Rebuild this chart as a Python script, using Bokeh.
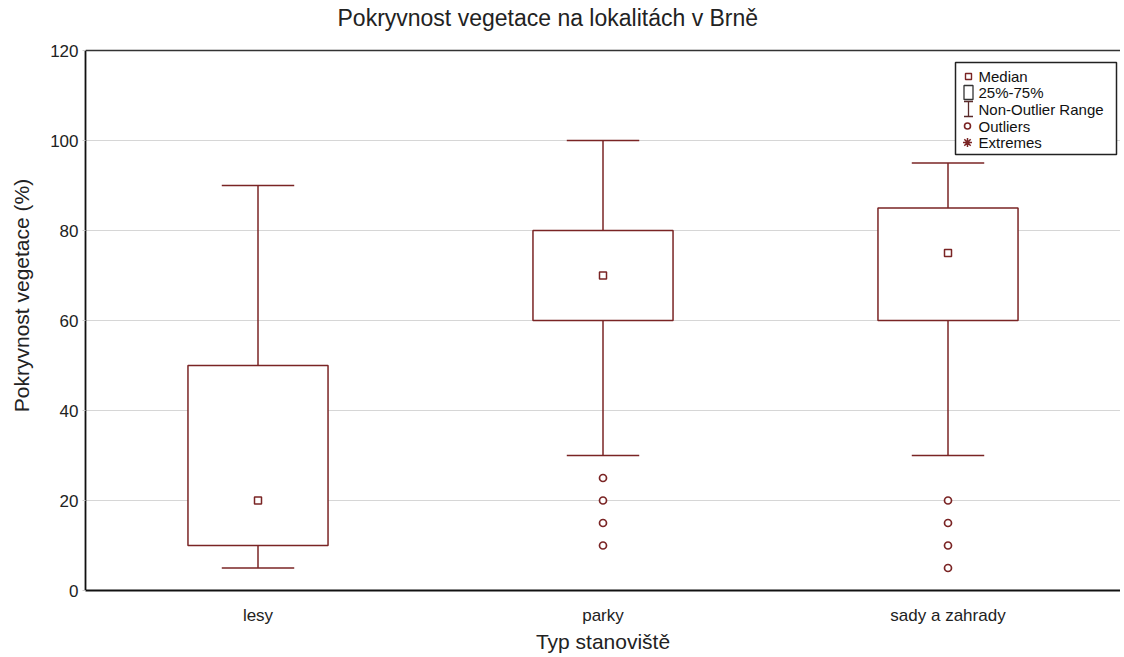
from bokeh.plotting import figure
from bokeh.models import ColumnDataSource, FixedTicker, Span, Range1d
from bokeh.core.properties import value
from bokeh.embed import file_html
from bokeh.resources import INLINE

# ---- data ----
categories = ["lesy", "parky", "sady a zahrady"]
whisker_low = [5, 30, 30]
q1 = [10, 60, 60]
median = [20, 70, 75]
q3 = [50, 80, 85]
whisker_high = [90, 100, 95]
outlier_cat = ["parky", "parky", "parky", "parky",
               "sady a zahrady", "sady a zahrady", "sady a zahrady", "sady a zahrady"]
outlier_val = [25, 20, 15, 10, 20, 15, 10, 5]
y_ticks = [0, 20, 40, 60, 80, 100, 120]
legend_labels = ["Median", "25%-75%", "Non-Outlier Range", "Outliers", "Extremes"]
title_text = "Pokryvnost vegetace na lokalitách v Brně"

COL = "#7a2424"
FONT = "Liberation Sans"

W, H = 1120, 657
BL, BR, BT, BB = 85, 0, 0, 67
FW, FH = W - BL - BR, H - BT - BB          # frame: 1035 x 590
PLOT_TOP = 50                               # pixel row where the value 120 sits
YMAX = 120
y_end = YMAX * FH / (FH - PLOT_TOP)         # extra room above the box area for the title

pos = {c: i + 0.5 for i, c in enumerate(categories)}
xs = [pos[c] for c in categories]
box_w = 0.406
cap_w = 0.21

src = ColumnDataSource(dict(
    x=xs, low=whisker_low, q1=q1, med=median, q3=q3, high=whisker_high,
    bottom_mid=[(a + b) / 2 for a, b in zip(q1, q3)],
    height=[b - a for a, b in zip(q1, q3)],
    cl=[x - cap_w / 2 for x in xs], cr=[x + cap_w / 2 for x in xs],
))
osrc = ColumnDataSource(dict(x=[pos[c] for c in outlier_cat], y=outlier_val))

p = figure(width=W, height=H, x_range=(0, 3), y_range=(0, y_end),
           output_backend="svg", toolbar_location=None,
           min_border_left=BL, min_border_right=BR, min_border_top=BT, min_border_bottom=BB)
# pixel-based ranges (origin = frame bottom-left) for title and legend box
p.extra_x_ranges = {"px": Range1d(0, FW)}
p.extra_y_ranges = {"py": Range1d(0, FH)}
R = dict(x_range_name="px", y_range_name="py")

p.outline_line_color = None
p.background_fill_color = "white"
p.border_fill_color = "white"

# grid
p.xgrid.grid_line_color = None
p.ygrid.grid_line_color = "#d6d6d6"
p.ygrid.grid_line_width = 1
p.ygrid.ticker = FixedTicker(ticks=y_ticks[:-1])

# axes
p.xaxis.ticker = FixedTicker(ticks=xs)
p.xaxis.major_label_overrides = {pos[c]: c for c in categories}
p.xaxis.axis_label = "Typ stanoviště"
p.yaxis.axis_label = "Pokryvnost vegetace (%)"
p.yaxis.ticker = FixedTicker(ticks=y_ticks)
p.yaxis.bounds = (0, YMAX)
for ax in (p.xaxis[0], p.yaxis[0]):
    ax.axis_line_color = "#111111"
    ax.axis_line_width = 1.8
    ax.major_label_text_font = FONT
    ax.major_label_text_font_size = "17px"
    ax.major_label_text_color = "#222222"
    ax.axis_label_text_font = FONT
    ax.axis_label_text_font_size = "21px"
    ax.axis_label_text_font_style = "normal"
    ax.axis_label_text_color = "#222222"
    ax.minor_tick_line_color = None
p.xaxis.major_tick_line_color = None
p.xaxis.major_label_standoff = 9
p.xaxis.axis_label_standoff = 2
p.yaxis.major_tick_line_color = "#cccccc"
p.yaxis.major_tick_in = 0
p.yaxis.major_tick_out = 3
p.yaxis.major_label_standoff = 4
p.yaxis.axis_label_standoff = 14

p.add_layout(Span(location=YMAX, dimension="width", line_color="#333333", line_width=1.5))

# title
p.text(x=[252], y=[FH - 17], text=[title_text], text_font=value(FONT),
       text_font_size="23px", text_color="#222222", text_baseline="middle",
       text_align="left", **R)

# whiskers
p.segment(x0="x", y0="q3", x1="x", y1="high", source=src, line_color=COL, line_width=1.5)
p.segment(x0="x", y0="q1", x1="x", y1="low", source=src, line_color=COL, line_width=1.5)
p.segment(x0="cl", y0="high", x1="cr", y1="high", source=src, line_color=COL, line_width=1.5)
p.segment(x0="cl", y0="low", x1="cr", y1="low", source=src, line_color=COL, line_width=1.5)
# boxes
p.rect(x="x", y="bottom_mid", width=box_w, height="height", source=src,
       fill_color="white", line_color=COL, line_width=1.5)
# median
p.scatter(x="x", y="med", source=src, marker="square", size=7,
          fill_color="white", line_color=COL, line_width=1.5)
# outliers
p.scatter(x="x", y="y", source=osrc, marker="circle", size=7,
          fill_color="white", line_color=COL, line_width=1.7)

# ---- legend drawn in frame pixel coordinates ----
lx0, lx1, ly0, ly1 = 870, 1031, FH - 154, FH - 62
row_y = [FH - 76, FH - 92, FH - 108.5, FH - 125.5, FH - 142]
gx = 883
p.quad(left=[lx0], right=[lx1], bottom=[ly0], top=[ly1], fill_color="white",
       line_color="#222222", line_width=1.5, **R)
p.scatter(x=[gx], y=[row_y[0]], marker="square", size=6, fill_color="white",
          line_color=COL, line_width=1.4, **R)
p.rect(x=[gx], y=[row_y[1]], width=9, height=14, fill_color="white",
       line_color="#333333", line_width=1.3, **R)
p.segment(x0=[gx, gx - 4.5, gx - 4.5], y0=[row_y[2] - 7.5, row_y[2] - 7.5, row_y[2] + 7.5],
          x1=[gx, gx + 4.5, gx + 4.5], y1=[row_y[2] + 7.5, row_y[2] - 7.5, row_y[2] + 7.5],
          line_color="#5a2a2a", line_width=1.3, **R)
p.scatter(x=[gx - 1], y=[row_y[3]], marker="circle", size=6, fill_color="white",
          line_color=COL, line_width=1.6, **R)
p.scatter(x=[gx - 1], y=[row_y[4]], marker="asterisk", size=9,
          line_color=COL, line_width=1.5, **R)
p.text(x=[893] * 5, y=row_y, text=legend_labels, text_font=value(FONT),
       text_font_size="15px", text_color="#111111", text_baseline="middle",
       text_align="left", **R)

open("out.html", "w").write(file_html(p, INLINE))
